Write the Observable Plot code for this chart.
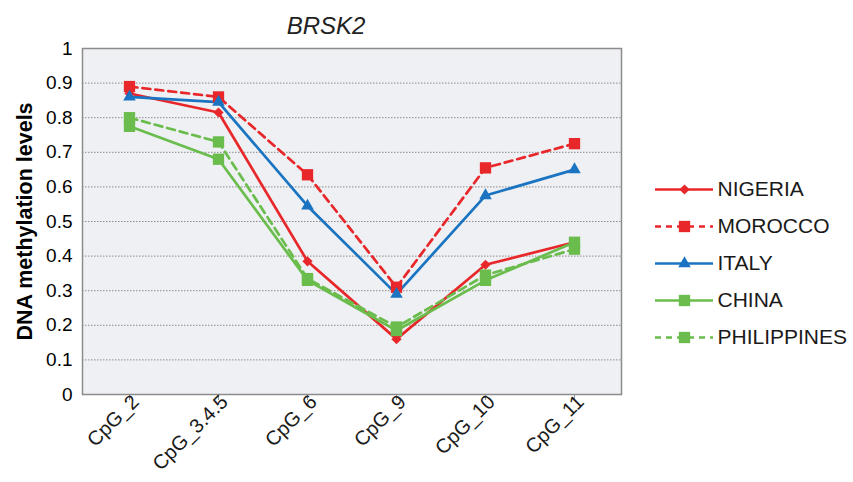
<!DOCTYPE html>
<html><head><meta charset="utf-8">
<script src="https://cdn.jsdelivr.net/npm/d3@7"></script>
<script src="https://cdn.jsdelivr.net/npm/@observablehq/plot@0.6"></script>
<style>
body{margin:0;background:#fff;font-family:"Liberation Sans",Arial,sans-serif}
#wrap{position:relative;width:853px;height:482px;overflow:hidden}
#legend{position:absolute;left:650px;top:170px}
</style>
</head><body><div id="wrap"><div id="chart"></div><div id="legend"></div></div>
<script>
const categories = ["CpG_2","CpG_3.4.5","CpG_6","CpG_9","CpG_10","CpG_11"];
const countries = ["NIGERIA","MOROCCO","ITALY","CHINA","PHILIPPINES"];
const nigeria = [0.87,0.815,0.385,0.16,0.375,0.44];
const morocco = [0.89,0.86,0.635,0.31,0.655,0.725];
const italy = [0.86,0.845,0.545,0.29,0.575,0.65];
const china = [0.775,0.68,0.33,0.185,0.33,0.44];
const philippines = [0.80,0.73,0.335,0.195,0.345,0.42];
const yTicks = [0,0.1,0.2,0.3,0.4,0.5,0.6,0.7,0.8,0.9,1];
const gridTicks = [0.1,0.2,0.3,0.4,0.5,0.6,0.7,0.8,0.9];
const colors = ["#e8272b","#e8272b","#1b74c1","#6abd4c","#6abd4c"];
const symbols = ["diamond2","square2","triangle2","square2","square2"];
const symbolR = [4.6,7.2,6,7.2,7.2];
const dashed = [false,true,false,false,true];
const title = "BRSK2";
const yLabel = "DNA methylation levels";

const seriesValues = [nigeria, morocco, italy, china, philippines];
const rows = [];
countries.forEach((c, i) => seriesValues[i].forEach((v, j) => rows.push({country: c, idx: i, cat: categories[j], value: v})));

const lineMarks = countries.map((c, i) => Plot.line(rows.filter(d => d.country === c), {
  x: "cat", y: "value", stroke: colors[i], strokeWidth: 2.7,
  strokeDasharray: dashed[i] ? "8,5" : null
}));
const dotMarks = countries.map((c, i) => Plot.dot(rows.filter(d => d.country === c), {
  x: "cat", y: "value", fill: colors[i], stroke: "none", symbol: symbols[i], r: symbolR[i]
}));

const chart = Plot.plot({
  width: 853, height: 482,
  marginLeft: 82, marginRight: 232, marginTop: 48, marginBottom: 88,
  style: {fontFamily: "'Liberation Sans', Arial, sans-serif", background: "transparent", overflow: "visible"},
  x: {type: "point", domain: categories, padding: 0.5},
  y: {domain: [0, 1]},
  marks: [
    Plot.frame({fill: "#eef0f3", stroke: "none"}),
    Plot.ruleY(gridTicks, {stroke: "#8a8a8a", strokeDasharray: "1.5,1.5", strokeWidth: 1}),
    Plot.frame({stroke: "#8c8c8c", strokeWidth: 1.5}),
    Plot.axisY({ticks: yTicks, tickFormat: d => String(+d.toFixed(1)), tickSize: 0, tickPadding: 10,
      fontSize: 19, label: yLabel, labelAnchor: "center", labelArrow: "none", labelOffset: 66}),
    Plot.axisX({tickSize: 6, text: null, label: null, stroke: "#8c8c8c"}),
    Plot.axisX({tickSize: 0, tickRotate: -45, tickPadding: 4, dx: 6, fontSize: 20, label: null, fill: "#1a1a1a"}),
    ...lineMarks,
    ...dotMarks,
    Plot.text([title], {frameAnchor: "top", dy: -32, dx: -26, fontSize: 24, fontStyle: "italic", fill: "#222"})
  ]
});
chart.querySelectorAll("[aria-label='y-axis label'] text, [aria-label='y-axis label']").forEach(el => {
  el.setAttribute("font-weight", "bold"); el.setAttribute("font-size", 21.5);
});
document.getElementById("chart").appendChild(chart);

const legendRows = countries.map((c, i) => ({country: c, i}));
const legend = Plot.plot({
  width: 203, height: 186,
  margin: 0,
  style: {fontFamily: "'Liberation Sans', Arial, sans-serif", background: "transparent", overflow: "visible"},
  x: {domain: [0, 1], range: [5, 63], axis: null},
  y: {type: "point", domain: countries, range: [19, 167], padding: 0, axis: null},
  marks: [
    ...legendRows.map(d => Plot.ruleY([d.country], {x1: 0, x2: 1, stroke: colors[d.i], strokeWidth: 2.7,
      strokeDasharray: dashed[d.i] ? "6,5" : null})),
    ...legendRows.map(d => Plot.dot([d.country], {x: 0.5, y: d => d, fill: colors[d.i], symbol: symbols[d.i], r: symbolR[d.i], stroke: "none"})),
    Plot.text(legendRows, {x: 1, y: "country", text: "country", textAnchor: "start", dx: 4, fontSize: 21, fill: "#1a1a1a"})
  ]
});
document.getElementById("legend").appendChild(legend);
</script>
</body></html>
